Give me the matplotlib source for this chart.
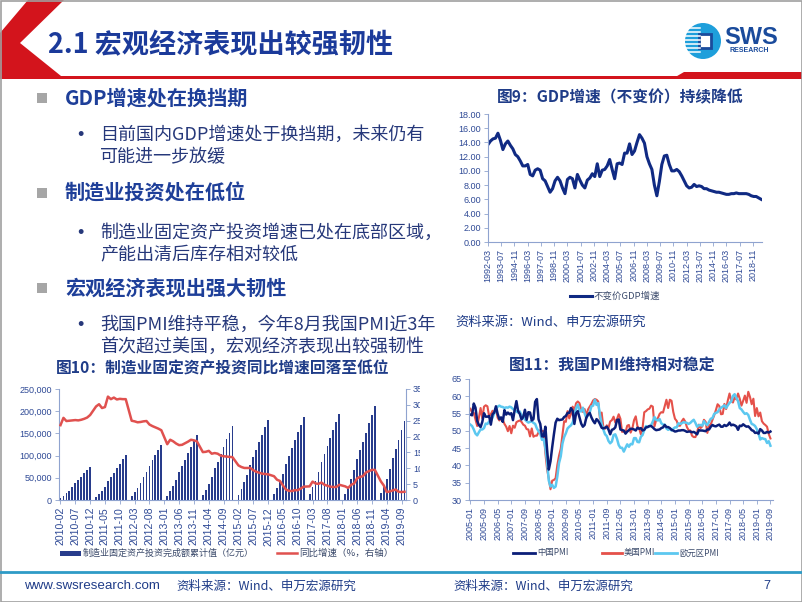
import matplotlib.pyplot as plt
from matplotlib.patches import Polygon, Rectangle, Circle
from matplotlib.ticker import FuncFormatter
import numpy as np

plt.rcParams['font.family'] = ['Noto Sans CJK SC', 'DejaVu Sans']

# ---------------- data ----------------
# 图9: 不变价GDP同比 (%), quarterly from 1992-03, plotted on a monthly axis
gdp_yoy = [13.7, 14.2, 14.5, 14.6, 15.3, 14.3, 13.0, 13.8, 14.2, 13.6,
           13.1, 12.3, 12.0, 11.4, 10.7, 10.7, 10.9, 9.5, 9.3, 10.1,
           10.3, 10.1, 8.9, 8.6, 7.8, 7.0, 7.5, 8.6, 9.1, 8.6,
           7.6, 6.8, 8.8, 9.1, 8.9, 7.6, 9.5, 8.7, 8.0, 7.6,
           8.7, 9.0, 9.6, 9.2, 11.0, 9.2, 10.1, 10.2, 10.7, 11.6,
           10.2, 8.9, 11.0, 11.1, 10.9, 12.5, 12.5, 13.8, 12.3, 12.8,
           14.0, 15.1, 14.6, 13.9, 12.0, 11.0, 10.2, 8.0, 6.5, 8.5,
           10.9, 12.1, 12.2, 10.9, 10.0, 10.0, 10.2, 9.9, 9.3, 8.6,
           7.9, 7.6, 7.7, 8.1, 7.8, 7.9, 7.8, 7.5, 7.5, 7.3,
           7.2, 7.1, 7.0, 7.0, 6.9, 6.8, 6.7, 6.7, 6.8, 6.8,
           6.9, 6.8, 6.8, 6.8, 6.8, 6.7, 6.5, 6.4, 6.4, 6.2,
           6.0]
gdp_labels = ['1992-03', '1993-07', '1994-11', '1996-03', '1997-07', '1998-11',
              '2000-03', '2001-07', '2002-11', '2004-03', '2005-07', '2006-11',
              '2008-03', '2009-07', '2010-11', '2012-03', '2013-07', '2014-11',
              '2016-03', '2017-07', '2018-11']

# 图10: 制造业固定资产投资完成额累计值 (亿元), Feb..Dec each year (Jan n/a)
fai_years = [2010, 2011, 2012, 2013, 2014, 2015, 2016, 2017, 2018, 2019]
fai_value = [
    [5200, 9000, 15000, 21000, 30000, 37500, 45000, 52500, 60000, 67500, 75000],
    [7000, 13000, 20500, 29000, 42000, 51000, 61000, 72000, 82000, 92000, 102000],
    [9000, 17500, 26500, 37500, 52000, 63500, 76000, 89000, 101000, 113000, 125000],
    [10000, 20500, 31500, 44500, 62000, 76000, 91000, 105500, 120000, 133500, 147000],
    [11000, 23000, 36500, 51500, 71000, 86500, 103000, 120000, 136500, 152000, 167000],
    [12000, 25500, 40000, 57000, 79000, 96000, 113500, 130500, 147500, 164500, 181000],
    [12500, 27000, 41000, 59000, 81000, 98500, 116500, 134500, 152500, 170000, 187000],
    [13000, 28500, 43500, 63000, 85500, 103500, 121500, 140000, 158500, 176500, 194000],
    [14000, 30000, 46500, 67500, 92000, 111500, 131000, 152000, 172500, 192500, 212000],
    [15000, 31500, 48000, 69500, 95000, 115000, 135000, 157000, 178000],
]
# 同比增速 (%, 右轴)
fai_growth = [
    [23.6, 25.9, 24.9, 25.0, 25.1, 25.2, 25.1, 25.3, 25.6, 26.0, 26.8],
    [29.5, 30.2, 29.0, 29.3, 32.6, 31.8, 32.3, 31.7, 31.9, 31.8, 31.8],
    [25.0, 24.8, 24.5, 24.6, 24.8, 24.9, 23.8, 23.3, 22.9, 22.5, 22.0],
    [17.6, 19.0, 18.5, 17.8, 17.3, 17.4, 17.9, 18.4, 19.0, 18.8, 18.5],
    [15.1, 15.2, 15.5, 14.6, 14.8, 14.6, 14.0, 13.8, 13.7, 13.6, 13.5],
    [10.9, 10.4, 10.1, 10.1, 10.1, 9.4, 8.9, 8.6, 8.3, 8.2, 8.1],
    [7.5, 6.4, 6.0, 4.6, 3.3, 2.9, 2.8, 3.1, 3.1, 3.6, 4.2],
    [4.3, 5.8, 5.2, 5.1, 5.5, 4.8, 4.5, 4.2, 4.1, 4.1, 4.8],
    [4.3, 3.8, 4.8, 5.2, 6.8, 7.3, 7.5, 8.7, 9.1, 9.5, 9.5],
    [5.9, 4.6, 2.5, 2.7, 3.0, 3.3, 2.6, 2.5, 2.6],
]
fai_labels = ['2010-02', '2010-07', '2010-12', '2011-05', '2011-10', '2012-03',
              '2012-08', '2013-01', '2013-06', '2013-11', '2014-04', '2014-09',
              '2015-02', '2015-07', '2015-12', '2016-05', '2016-10', '2017-03',
              '2017-08', '2018-01', '2018-06', '2018-11', '2019-04', '2019-09']

# 图11: PMI, monthly 2005-01 .. 2019-09
pmi_china = [
    54.7, 54.5, 57.9, 56.7, 52.9, 51.7, 51.1, 52.6, 55.1, 54.1, 54.1, 54.3,
    51.8, 54.8, 55.3, 57.1, 54.9, 53.4, 53.9, 52.6, 56.0, 54.7, 55.3, 54.8,
    55.1, 53.1, 56.1, 58.6, 55.7, 54.9, 53.3, 54.0, 56.1, 53.2, 55.4, 55.3,
    53.0, 53.4, 58.4, 59.2, 53.3, 52.0, 48.4, 48.4, 51.2, 44.6, 38.8, 41.2,
    45.3, 49.0, 52.4, 53.5, 53.1, 53.2, 53.3, 54.0, 54.3, 55.2, 55.2, 56.6,
    55.8, 52.0, 55.1, 55.7, 53.9, 52.1, 51.2, 51.7, 53.8, 54.7, 55.2, 53.9,
    52.9, 52.2, 53.4, 52.9, 52.0, 50.9, 50.7, 50.9, 51.2, 50.4, 49.0, 50.3,
    50.5, 51.0, 53.1, 53.3, 50.4, 50.2, 50.1, 49.2, 49.8, 50.2, 50.6, 50.6,
    50.4, 50.1, 50.9, 50.6, 50.8, 50.1, 50.3, 51.0, 51.1, 51.4, 51.4, 51.0,
    50.5, 50.2, 50.3, 50.4, 50.8, 51.0, 51.7, 51.1, 51.1, 50.8, 50.3, 50.1,
    49.8, 49.9, 50.1, 50.1, 50.2, 50.2, 50.0, 49.7, 49.8, 49.8, 49.6, 49.7,
    49.4, 49.0, 50.2, 50.1, 50.1, 50.0, 49.9, 50.4, 50.4, 51.2, 51.7, 51.4,
    51.3, 51.6, 51.8, 51.2, 51.2, 51.7, 51.4, 51.7, 52.4, 51.6, 51.8, 51.6,
    51.3, 50.3, 51.5, 51.4, 51.9, 51.5, 51.2, 51.3, 50.8, 50.2, 50.0, 49.4,
    49.5, 49.2, 50.5, 50.1, 49.4, 49.4, 49.7, 49.5, 49.8]
pmi_us = [
    56.4, 55.3, 55.2, 53.3, 51.4, 53.8, 56.6, 53.6, 57.0, 57.4, 57.1, 54.2,
    54.8, 55.8, 55.2, 56.5, 53.8, 53.0, 53.5, 53.2, 52.0, 51.2, 49.9, 51.4,
    49.3, 51.5, 50.9, 52.5, 52.8, 53.0, 52.6, 51.8, 51.5, 50.5, 50.4, 48.4,
    50.7, 48.3, 48.6, 48.6, 49.6, 50.2, 50.0, 49.9, 43.5, 38.9, 36.2, 33.1,
    35.6, 35.8, 36.3, 40.1, 42.8, 44.8, 48.9, 52.8, 52.6, 55.7, 53.6, 54.9,
    57.0, 55.8, 58.0, 58.5, 58.0, 56.2, 55.5, 56.3, 54.4, 56.2, 57.0, 57.8,
    58.8, 59.2, 59.0, 58.5, 53.5, 55.3, 51.0, 50.6, 51.6, 50.8, 52.7, 53.1,
    54.1, 52.4, 53.4, 54.8, 53.5, 49.7, 49.8, 49.6, 51.5, 51.7, 49.5, 50.7,
    53.1, 54.2, 51.3, 50.7, 49.0, 50.9, 55.4, 55.7, 56.2, 56.4, 57.3, 57.0,
    51.3, 53.2, 53.7, 54.9, 55.4, 55.3, 57.1, 59.0, 56.6, 59.0, 58.7, 55.5,
    53.5, 52.9, 51.5, 51.5, 52.8, 53.5, 52.7, 51.1, 50.2, 50.1, 48.6, 48.2,
    48.2, 49.5, 51.8, 50.8, 51.3, 53.2, 52.6, 49.4, 51.5, 51.9, 53.2, 54.5,
    56.0, 57.7, 57.2, 54.8, 54.9, 57.8, 56.3, 58.8, 60.8, 58.7, 58.2, 59.7,
    59.1, 60.8, 59.3, 57.3, 58.7, 60.2, 58.1, 61.3, 59.8, 57.7, 59.3, 54.3,
    56.6, 54.2, 55.3, 52.8, 52.1, 51.7, 51.2, 49.1, 47.8]
pmi_euro = [
    51.8, 51.4, 50.4, 49.2, 48.7, 49.6, 50.4, 50.4, 50.8, 52.1, 52.0, 52.7,
    52.8, 53.9, 55.0, 56.3, 57.0, 57.3, 57.0, 56.9, 56.6, 56.8, 56.7, 57.0,
    56.8, 56.3, 56.0, 55.6, 55.3, 55.6, 54.5, 54.1, 53.3, 52.8, 52.4, 52.6,
    52.8, 52.3, 52.0, 50.7, 49.9, 49.2, 47.4, 47.6, 45.0, 41.1, 35.6, 33.9,
    34.4, 33.5, 33.9, 36.8, 40.7, 42.6, 46.3, 48.2, 49.3, 50.7, 51.2, 51.6,
    52.4, 54.2, 56.6, 57.6, 55.8, 55.6, 56.7, 55.1, 53.7, 54.6, 55.3, 57.1,
    57.3, 59.0, 57.5, 58.0, 54.6, 52.0, 50.4, 49.0, 48.5, 47.1, 46.4, 46.9,
    48.8, 49.0, 47.7, 45.9, 45.1, 45.1, 44.0, 45.1, 46.1, 45.4, 46.2, 46.1,
    47.9, 47.9, 46.8, 46.7, 48.3, 48.8, 50.3, 51.4, 51.1, 51.3, 51.6, 52.7,
    54.0, 53.2, 53.0, 53.4, 52.2, 51.8, 51.8, 50.7, 50.3, 50.6, 50.1, 50.6,
    51.0, 51.0, 52.2, 52.0, 52.2, 52.5, 52.4, 52.3, 52.0, 52.3, 52.8, 53.2,
    52.3, 51.2, 51.6, 51.7, 51.5, 52.8, 52.0, 51.7, 52.6, 53.5, 53.7, 54.9,
    55.2, 55.4, 56.2, 56.7, 57.0, 57.4, 56.6, 57.4, 58.1, 58.5, 60.1, 60.6,
    59.6, 58.6, 56.6, 56.2, 55.5, 54.9, 55.1, 54.6, 53.2, 52.0, 51.8, 51.4,
    50.5, 49.3, 47.5, 47.9, 47.7, 47.6, 46.5, 47.0, 45.7]
pmi_labels = ['2005-01', '2005-09', '2006-05', '2007-01', '2007-09', '2008-05',
              '2009-01', '2009-09', '2010-05', '2011-01', '2011-09', '2012-05',
              '2013-01', '2013-09', '2014-05', '2015-01', '2015-09', '2016-05',
              '2017-01', '2017-09', '2018-05', '2019-01', '2019-09']

# ---------------- styles ----------------
NAVY = '#1F3C88'
HEAD = '#1E3F99'
BODY = '#26387A'
TICK = '#2F4A96'
SPINE = '#8FA3CF'
LEG = '#3B4A6B'
NUM = ['Liberation Sans', 'DejaVu Sans']

W, H = 802, 602
fig = plt.figure(figsize=(W / 100, H / 100), dpi=100)


def rect(x0, y0, x1, y1):
    return [x0 / W, 1 - y1 / H, (x1 - x0) / W, (y1 - y0) / H]


# background layer in pixel coordinates
bg = fig.add_axes([0, 0, 1, 1], zorder=0)
bg.set_xlim(0, W)
bg.set_ylim(H, 0)
bg.axis('off')

# header: red chevron and rule
bg.add_patch(Polygon([(28, 0), (64, 0), (20, 43), (61, 76), (802, 76),
                      (802, 79), (0, 79), (0, 33)], closed=True,
                     fc='#D3141C', ec='none'))
bg.add_patch(Polygon([(672, 79), (684, 72), (802, 72), (802, 79)],
                     closed=True, fc='#D3141C', ec='none'))
bg.text(48, 45, '2.1 宏观经济表现出较强韧性', fontsize=19.5, fontweight='bold',
        color='#1B3A9A', va='center', ha='left')

# logo
bg.add_patch(Circle((703, 41), 18, fc='#1E9FDB', ec='none'))
for yy in range(28, 56, 4):
    bg.plot([685, 700], [yy, yy], color='white', lw=1.1)
bg.add_patch(Rectangle((699, 34), 12, 14, fc='white', ec='#1A4B9C', lw=2))
bg.text(724, 37, 'SWS', fontsize=17, fontweight='bold', color='#1A4B9C',
        family=NUM, va='center', ha='left')
bg.text(729, 51, 'RESEARCH', fontsize=5, fontweight='bold', color='#1A4B9C',
        family=NUM, va='center', ha='left')

# left text block
heads = [(98, 'GDP增速处在换挡期'), (193, '制造业投资处在低位'),
         (288, '宏观经济表现出强大韧性')]
for yy, s in heads:
    bg.add_patch(Rectangle((37, yy - 5), 10, 10, fc='#A6A6A6', ec='none'))
    bg.text(65, yy, s, fontsize=14.5, fontweight='bold', color=HEAD,
            va='center', ha='left')
bullets = [(135, ['目前国内GDP增速处于换挡期，未来仍有', '可能进一步放缓']),
           (233, ['制造业固定资产投资增速已处在底部区域，', '产能出清后库存相对较低']),
           (325, ['我国PMI维持平稳，今年8月我国PMI近3年', '首次超过美国，宏观经济表现出较强韧性'])]
for yy, lines in bullets:
    bg.text(80, yy, '•', fontsize=13, color=BODY, va='center', ha='center',
            family=NUM)
    for k, s in enumerate(lines):
        bg.text(100, yy + 22 * k, s, fontsize=13, color=BODY,
                va='center', ha='left')

# footer
bg.plot([0, W], [572, 572], color='#2E9BC6', lw=2)
bg.text(24, 586, 'www.swsresearch.com', fontsize=9.6, color=NAVY, family=NUM,
        va='center', ha='left')
bg.text(176, 586, '资料来源：Wind、申万宏源研究', fontsize=9, color=NAVY,
        va='center', ha='left')
bg.text(453, 586, '资料来源：Wind、申万宏源研究', fontsize=9, color=NAVY,
        va='center', ha='left')
bg.text(763, 586, '7', fontsize=9, color=NAVY, family=NUM, va='center')
bg.add_patch(Rectangle((0.5, 0.5), W - 1, H - 1, fill=False, ec='#A0A0A0', lw=1.2))


def style_axes(ax, xsize=6.5):
    for side in ['top', 'right']:
        ax.spines[side].set_visible(False)
    for side in ['left', 'bottom']:
        ax.spines[side].set_color(SPINE)
        ax.spines[side].set_linewidth(0.8)
    ax.tick_params(direction='out', length=3, width=0.6, color=SPINE,
                   labelsize=6.5, labelcolor=TICK, pad=2)
    ax.tick_params(axis='x', labelrotation=90, labelsize=xsize)
    for lab in ax.get_xticklabels() + ax.get_yticklabels():
        lab.set_family(NUM)


def legend_line(x0, x1, y, color, lw, text, size=6.8):
    fig.add_artist(plt.Line2D([x0 / W, x1 / W], [1 - y / H, 1 - y / H],
                              color=color, lw=lw, zorder=5))
    fig.text((x1 + 2) / W, 1 - y / H, text, fontsize=size, color=LEG,
             va='center', ha='left', zorder=5)


# ---------------- 图9 ----------------
fig.text(620 / W, 1 - 97 / H, '图9：GDP增速（不变价）持续降低', fontsize=11.3,
         fontweight='bold', color=NAVY, ha='center', va='center', zorder=5)
ax9 = fig.add_axes(rect(488, 114, 762, 242), zorder=2)
gdp_x = np.arange(len(gdp_yoy)) * 3
ax9.plot(gdp_x, gdp_yoy, color='#102A83', lw=2.2, solid_joinstyle='round')
ax9.set_xlim(0, 331)
ax9.set_ylim(0, 18)
ax9.set_yticks(np.arange(0, 19, 2))
ax9.set_yticklabels(['%.2f' % v for v in np.arange(0, 19, 2)])
ax9.set_xticks(np.arange(len(gdp_labels)) * 16)
ax9.set_xticklabels(gdp_labels)
style_axes(ax9)
legend_line(570, 592, 296, '#102A83', 2.2, '不变价GDP增速')
fig.text(455 / W, 1 - 322 / H, '资料来源：Wind、申万宏源研究', fontsize=9.5,
         color=NAVY, ha='left', va='center', zorder=5)

# ---------------- 图10 ----------------
fig.add_artist(Rectangle((5, 357), 415, 22, transform=bg.transData,
                         fc='white', ec='none', zorder=0.5))
fig.text(223 / W, 1 - 368 / H, '图10：制造业固定资产投资同比增速回落至低位',
         fontsize=11.3, fontweight='bold', color=NAVY, ha='center',
         va='center', zorder=5)
fai_x, fai_bar, fai_g = [], [], []
for k, yr in enumerate(fai_years):
    for j, v in enumerate(fai_value[k]):
        fai_x.append(k * 12 + j)
        fai_bar.append(v)
        fai_g.append(fai_growth[k][j])

ax10 = fig.add_axes(rect(59, 389, 406, 500), zorder=1)
ax10.bar(fai_x, fai_bar, width=0.6, color='#283C8C')
ax10.set_xlim(-0.5, 116.5)
ax10.set_ylim(0, 250000)
ax10.set_yticks(np.arange(0, 250001, 50000))
ax10.yaxis.set_major_formatter(FuncFormatter(lambda v, p: '{:,.0f}'.format(v)))
ax10.set_xticks(np.arange(len(fai_labels)) * 5)
ax10.set_xticklabels(fai_labels)
style_axes(ax10, xsize=7.6)

ax10b = ax10.twinx()
ax10b.set_zorder(1.1)
ax10b.patch.set_visible(False)
ax10b.plot(fai_x, fai_g, color='#E0514F', lw=1.8)
ax10b.set_ylim(0, 35)
ax10b.set_yticks(np.arange(0, 36, 5))
for side in ['top', 'left', 'bottom']:
    ax10b.spines[side].set_visible(False)
ax10b.spines['right'].set_color(SPINE)
ax10b.spines['right'].set_linewidth(0.8)
ax10b.tick_params(direction='out', length=3, width=0.6, color=SPINE,
                  labelsize=6.5, labelcolor=TICK, pad=2)
for lab in ax10b.get_yticklabels():
    lab.set_family(NUM)

fig.add_artist(Rectangle((60, 551), 21, 5, transform=bg.transData,
                         fc='#283C8C', ec='none', zorder=5))
fig.text(83 / W, 1 - 553 / H, '制造业固定资产投资完成额累计值（亿元）',
         fontsize=6.5, color=LEG, va='center', ha='left', zorder=5)
legend_line(277, 297, 553, '#E0514F', 1.8, '同比增速（%，右轴）')

# ---------------- 图11 ----------------
fig.add_artist(Rectangle((420, 357), 381, 208, transform=bg.transData,
                         fc='white', ec='none', zorder=1.5))
fig.text(612 / W, 1 - 365 / H, '图11：我国PMI维持相对稳定', fontsize=11.4,
         fontweight='bold', color=NAVY, ha='center', va='center', zorder=5)
ax11 = fig.add_axes(rect(469, 379, 773, 500), zorder=2)
pmi_x = np.arange(len(pmi_china))
ax11.plot(pmi_x, pmi_us, color='#E5514A', lw=1.5)
ax11.plot(pmi_x, pmi_euro, color='#5CC8F0', lw=1.8)
ax11.plot(pmi_x, pmi_china, color='#0B1E78', lw=1.8)
ax11.set_xlim(-0.8, 177.5)
ax11.set_ylim(30, 65)
ax11.set_yticks(np.arange(30, 66, 5))
ax11.set_xticks(np.arange(len(pmi_labels)) * 8)
ax11.set_xticklabels(pmi_labels)
style_axes(ax11)
legend_line(513, 535, 553, '#0B1E78', 2.0, '中国PMI', size=6.0)
legend_line(602, 622, 553, '#E5514A', 2.0, '美国PMI', size=6.0)
legend_line(655, 677, 553, '#5CC8F0', 2.0, '欧元区PMI', size=6.0)

fig.savefig('out.png', dpi=100)
